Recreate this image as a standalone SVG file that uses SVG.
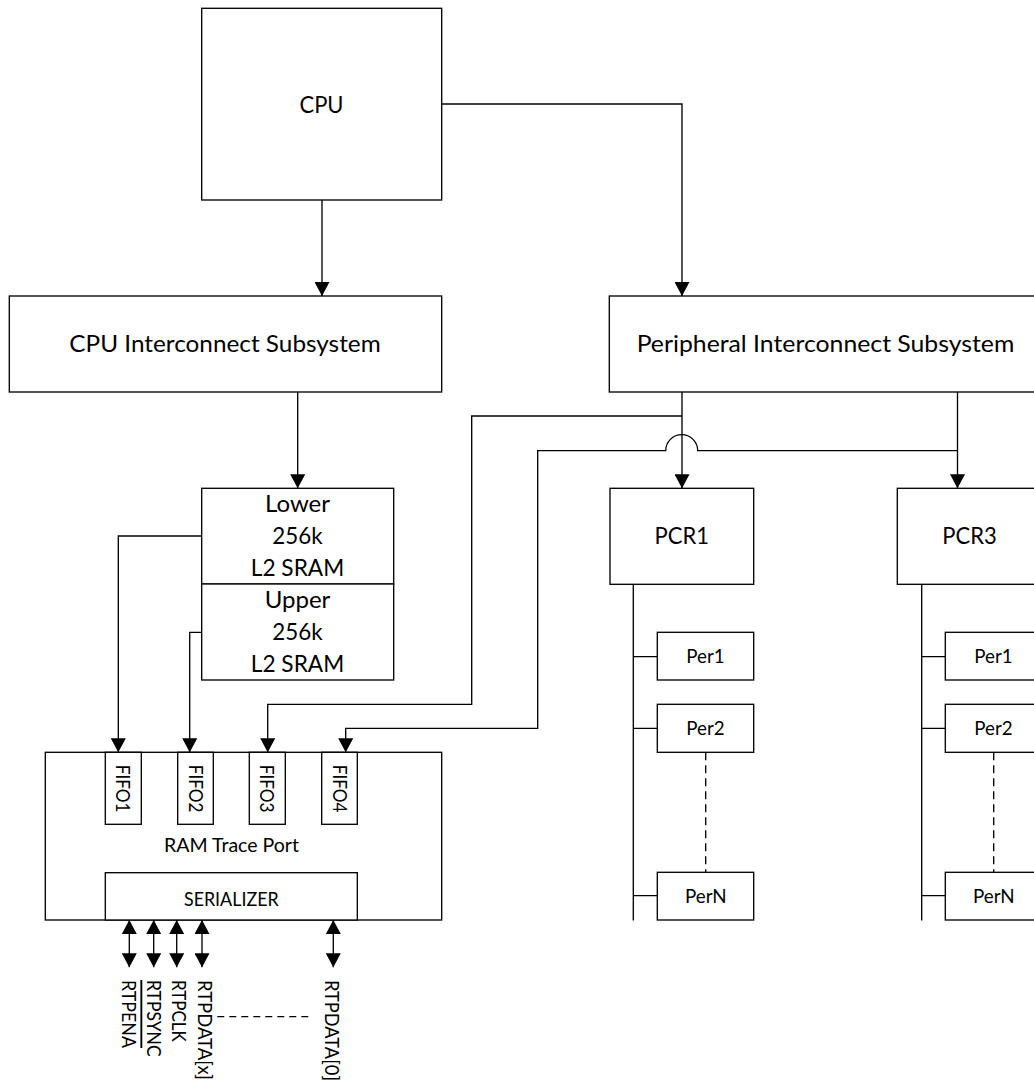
<svg xmlns="http://www.w3.org/2000/svg" width="1034" height="1087" viewBox="0 0 1034 1087">
<defs>
<marker id="ah" markerUnits="userSpaceOnUse" viewBox="0 0 14 15" refX="14" refY="7.5" markerWidth="14" markerHeight="15" orient="auto-start-reverse"><path d="M0,0 L14,7.5 L0,15 Z" fill="#000"/></marker>
</defs>
<style>
.box{fill:#fff;stroke:#000;stroke-width:1.33}
.ln{fill:none;stroke:#000;stroke-width:1.33}
.arr{marker-end:url(#ah)}
.bi{marker-start:url(#ah);marker-end:url(#ah)}
.dash{stroke-dasharray:8 5}
text{font-family:Lato,"Open Sans","Liberation Sans",sans-serif;fill:#000}
.big{font-size:24px;text-anchor:middle}
.mid{font-size:19px;text-anchor:middle}
.pin{font-size:19px;text-anchor:start}
</style>
<rect x="0" y="0" width="1034" height="1087" fill="#fff"/>

<g id="connectors">
<path class="ln arr" d="M322,200 V296"/>
<path class="ln arr" d="M441.7,104 H682 V296"/>
<path class="ln arr" d="M297.7,392 V488.3"/>
<path class="ln arr" d="M682,392 V488.3"/>
<path class="ln arr" d="M957.5,392 V488.3"/>
<path class="ln arr" d="M682,416 H471.7 V704.3 H267.7 V752.3"/>
<path class="ln arr" d="M957.5,450.7 H697.7 A16,16 0 0 0 665.7,450.7 H537.7 V728.3 H345.7 V752.3"/>
<path class="ln arr" d="M201.7,536 H118.3 V752.3"/>
<path class="ln arr" d="M201.7,632.3 H189.7 V752.3"/>
<path class="ln" d="M633.3,584.3 V920.5 M633.3,656.7 H657.3 M633.3,728.3 H657.3 M633.3,895.7 H657.3"/>
<path class="ln" d="M921.7,584.3 V920.5 M921.7,656.7 H945.3 M921.7,728.3 H945.3 M921.7,895.7 H945.3"/>
<path class="ln dash" d="M705.7,752.3 V872.3"/>
<path class="ln dash" d="M993.7,752.3 V872.3"/>
<path class="ln bi" d="M129.3,920 V967.3"/>
<path class="ln bi" d="M153.7,920 V967.3"/>
<path class="ln bi" d="M176.7,920 V967.3"/>
<path class="ln bi" d="M202,920 V967.3"/>
<path class="ln bi" d="M333.3,920 V967.3"/>
<path class="ln" style="stroke-dasharray:7 5" d="M217.3,1016.7 H313.3"/>
</g>

<g id="cpu">
<rect class="box" x="201.7" y="8.3" width="240" height="191.7"/>
<text class="big" x="321.5" y="112.7" textLength="44" lengthAdjust="spacingAndGlyphs">CPU</text>
</g>
<g id="cpu-interconnect">
<rect class="box" x="9.3" y="296" width="432.4" height="96"/>
<text class="big" x="225" y="352.3" textLength="311.3" lengthAdjust="spacingAndGlyphs">CPU Interconnect Subsystem</text>
</g>
<g id="peripheral-interconnect">
<rect class="box" x="609.3" y="296" width="432.7" height="96"/>
<text class="big" x="825.5" y="352.3" textLength="377.7" lengthAdjust="spacingAndGlyphs">Peripheral Interconnect Subsystem</text>
</g>
<g id="l2-lower">
<rect class="box" x="201.7" y="488.3" width="192" height="95.7"/>
<text class="big" x="297.5" y="511.7" textLength="65" lengthAdjust="spacingAndGlyphs">Lower</text>
<text class="big" x="297.5" y="544" textLength="50.3" lengthAdjust="spacingAndGlyphs">256k</text>
<text class="big" x="297.5" y="575.7" textLength="93.3" lengthAdjust="spacingAndGlyphs">L2 SRAM</text>
</g>
<g id="l2-upper">
<rect class="box" x="201.7" y="584" width="192" height="96"/>
<text class="big" x="297.5" y="607.7" textLength="65.7" lengthAdjust="spacingAndGlyphs">Upper</text>
<text class="big" x="297.5" y="639.7" textLength="50.3" lengthAdjust="spacingAndGlyphs">256k</text>
<text class="big" x="297.5" y="671.5" textLength="93.3" lengthAdjust="spacingAndGlyphs">L2 SRAM</text>
</g>
<g id="pcr1">
<rect class="box" x="610" y="488.3" width="143.7" height="96"/>
<text class="big" x="681.8" y="543.5" textLength="54.4" lengthAdjust="spacingAndGlyphs">PCR1</text>
</g>
<g id="pcr3">
<rect class="box" x="897.3" y="488.3" width="144" height="96"/>
<text class="big" x="969.5" y="543.5" textLength="54.4" lengthAdjust="spacingAndGlyphs">PCR3</text>
</g>
<g id="pcr1-per1">
<rect class="box" x="657.3" y="632.3" width="96.4" height="47.7"/>
<text class="mid" x="705.5" y="662.7" textLength="38.3" lengthAdjust="spacingAndGlyphs">Per1</text>
</g>
<g id="pcr1-per2">
<rect class="box" x="657.3" y="704.3" width="96.4" height="48"/>
<text class="mid" x="705.5" y="735" textLength="38.3" lengthAdjust="spacingAndGlyphs">Per2</text>
</g>
<g id="pcr1-perN">
<rect class="box" x="657.3" y="872.3" width="96.4" height="47.7"/>
<text class="mid" x="705.8" y="902.7" textLength="41.7" lengthAdjust="spacingAndGlyphs">PerN</text>
</g>
<g id="pcr3-per1">
<rect class="box" x="945.3" y="632.3" width="96.4" height="47.7"/>
<text class="mid" x="993.5" y="663" textLength="38.3" lengthAdjust="spacingAndGlyphs">Per1</text>
</g>
<g id="pcr3-per2">
<rect class="box" x="945.3" y="704.3" width="96.4" height="48"/>
<text class="mid" x="993.5" y="735" textLength="38.3" lengthAdjust="spacingAndGlyphs">Per2</text>
</g>
<g id="pcr3-perN">
<rect class="box" x="945.3" y="872.3" width="96.4" height="47.7"/>
<text class="mid" x="993.8" y="902.7" textLength="41.7" lengthAdjust="spacingAndGlyphs">PerN</text>
</g>
<g id="ram-trace-port">
<rect class="box" x="45.3" y="752.3" width="396.4" height="167.7"/>
<text class="mid" x="231.5" y="851.7" textLength="135" lengthAdjust="spacingAndGlyphs">RAM Trace Port</text>
</g>
<g id="fifo1">
<rect class="box" x="105.3" y="752.3" width="36" height="72"/>
<text class="mid" transform="translate(116.3,788.6) rotate(90)" textLength="47.7" lengthAdjust="spacingAndGlyphs">FIFO1</text>
</g>
<g id="fifo2">
<rect class="box" x="177.7" y="752.3" width="35.6" height="72"/>
<text class="mid" transform="translate(188.5,788.6) rotate(90)" textLength="47.7" lengthAdjust="spacingAndGlyphs">FIFO2</text>
</g>
<g id="fifo3">
<rect class="box" x="249.3" y="752.3" width="36" height="72"/>
<text class="mid" transform="translate(260.3,788.6) rotate(90)" textLength="47.7" lengthAdjust="spacingAndGlyphs">FIFO3</text>
</g>
<g id="fifo4">
<rect class="box" x="321.7" y="752.3" width="35.6" height="72"/>
<text class="mid" transform="translate(332.5,788.6) rotate(90)" textLength="47.7" lengthAdjust="spacingAndGlyphs">FIFO4</text>
</g>
<g id="serializer">
<rect class="box" x="105.3" y="872.7" width="252" height="47.3"/>
<text class="mid" x="231.3" y="906" textLength="94.7" lengthAdjust="spacingAndGlyphs">SERIALIZER</text>
</g>
<g id="pins">
<text class="pin" transform="translate(122.3,980) rotate(90)" textLength="68" lengthAdjust="spacingAndGlyphs" text-decoration="overline">RTPENA</text>
<text class="pin" transform="translate(147,980) rotate(90)" textLength="76.7" lengthAdjust="spacingAndGlyphs">RTPSYNC</text>
<text class="pin" transform="translate(172,980) rotate(90)" textLength="61.7" lengthAdjust="spacingAndGlyphs">RTPCLK</text>
<text class="pin" transform="translate(197.5,980) rotate(90)" textLength="100" lengthAdjust="spacingAndGlyphs">RTPDATA[x]</text>
<text class="pin" transform="translate(325,980) rotate(90)" textLength="101" lengthAdjust="spacingAndGlyphs">RTPDATA[0]</text>
</g>
</svg>
